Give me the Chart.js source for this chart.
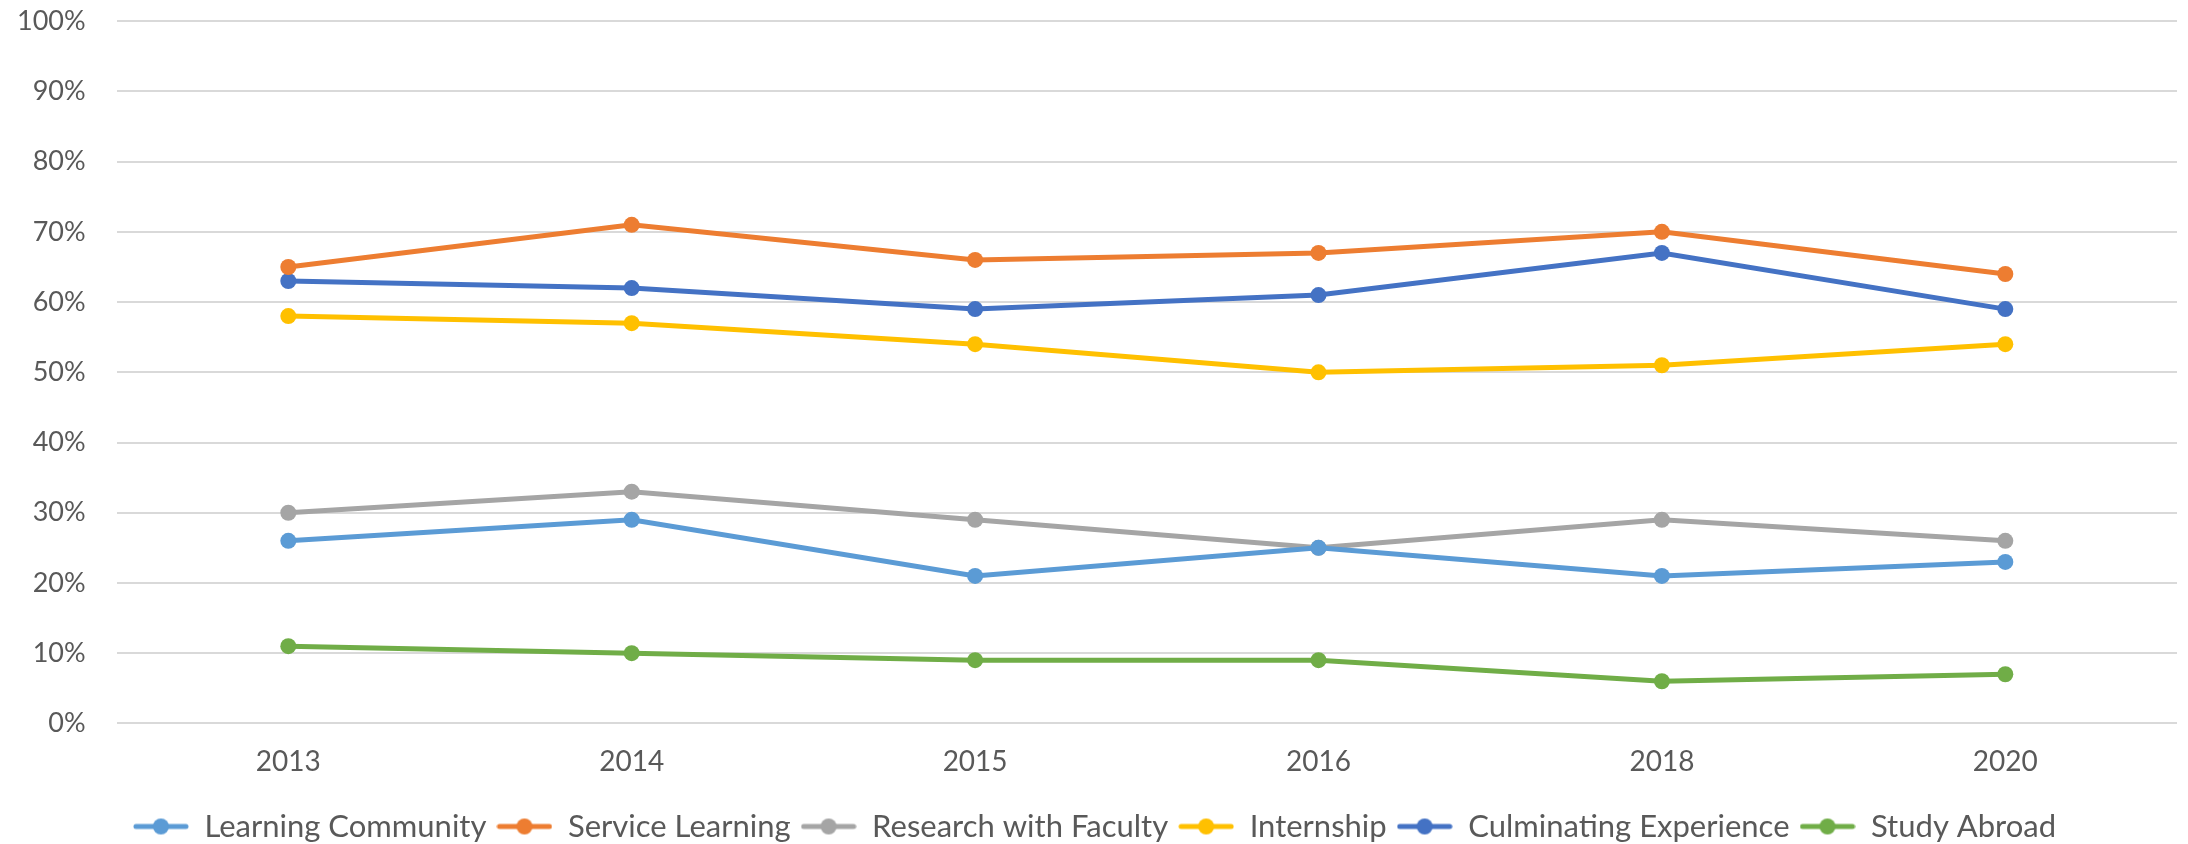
<!DOCTYPE html>
<html>
<head>
<meta charset="utf-8">
<script src="https://cdn.jsdelivr.net/npm/chart.js@4/dist/chart.umd.min.js"></script>
<style>
  html, body { margin: 0; padding: 0; background: #fff; }
  #wrap { width: 2188px; height: 844px; position: relative; }
</style>
</head>
<body>
<div id="wrap"><canvas id="chart"></canvas></div>
<script>
const years = ['2013', '2014', '2015', '2016', '2018', '2020'];

const learningCommunity = [26, 29, 21, 25, 21, 23];
const serviceLearning = [65, 71, 66, 67, 70, 64];
const researchWithFaculty = [30, 33, 29, 25, 29, 26];
const internship = [58, 57, 54, 50, 51, 54];
const culminatingExperience = [63, 62, 59, 61, 67, 59];
const studyAbroad = [11, 10, 9, 9, 6, 7];

const seriesNames = ['Learning Community', 'Service Learning', 'Research with Faculty',
    'Internship', 'Culminating Experience', 'Study Abroad'];
const seriesColors = ['#5B9BD5', '#ED7D31', '#A5A5A5', '#FFC000', '#4472C4', '#70AD47'];
const seriesData = [learningCommunity, serviceLearning, researchWithFaculty,
    internship, culminatingExperience, studyAbroad];

const FONT = 'Lato, "Open Sans", sans-serif';
const TEXT_COLOR = '#595959';

// legend marker: short line with a dot in the middle, like Excel
function legendMarker(color) {
    const c = document.createElement('canvas');
    c.width = 56;
    c.height = 18;
    const ctx = c.getContext('2d');
    ctx.strokeStyle = color;
    ctx.lineWidth = 5;
    ctx.lineCap = 'round';
    ctx.beginPath();
    ctx.moveTo(3, 9);
    ctx.lineTo(53, 9);
    ctx.stroke();
    ctx.fillStyle = color;
    ctx.beginPath();
    ctx.arc(28, 9, 8, 0, Math.PI * 2);
    ctx.fill();
    return c;
}

const datasets = seriesNames.map((name, i) => ({
    label: name,
    data: seriesData[i],
    borderColor: seriesColors[i],
    backgroundColor: seriesColors[i],
    borderWidth: 5,
    pointRadius: 8,
    pointHoverRadius: 8,
    pointBorderWidth: 0,
    tension: 0
}));

new Chart(document.getElementById('chart'), {
    type: 'line',
    data: {
        labels: years,
        datasets: datasets
    },
    options: {
        responsive: true,
        maintainAspectRatio: false,
        animation: false,
        layout: {
            padding: { top: 0, right: 11, bottom: -8, left: 12 }
        },
        plugins: {
            legend: {
                position: 'bottom',
                labels: {
                    color: TEXT_COLOR,
                    font: { family: FONT, size: 31 },
                    usePointStyle: true,
                    pointStyleWidth: 56,
                    padding: 10,
                    generateLabels: (chart) => chart.data.datasets.map((ds, i) => ({
                        text: ds.label,
                        fillStyle: ds.borderColor,
                        strokeStyle: ds.borderColor,
                        pointStyle: legendMarker(ds.borderColor),
                        fontColor: TEXT_COLOR,
                        lineWidth: 0,
                        hidden: false,
                        datasetIndex: i
                    }))
                }
            },
            tooltip: { enabled: false }
        },
        scales: {
            x: {
                offset: true,
                grid: { display: false, drawTicks: false },
                border: { display: false },
                ticks: {
                    color: TEXT_COLOR,
                    font: { family: FONT, size: 28 },
                    padding: 22
                }
            },
            y: {
                min: 0,
                max: 100,
                grid: {
                    color: '#D9D9D9',
                    lineWidth: 2,
                    drawTicks: true,
                    tickLength: 26,
                    tickColor: 'rgba(0,0,0,0)'
                },
                border: { display: false },
                ticks: {
                    stepSize: 10,
                    color: TEXT_COLOR,
                    font: { family: FONT, size: 27 },
                    padding: 5,
                    callback: (v) => v + '%'
                }
            }
        }
    }
});
</script>
</body>
</html>
